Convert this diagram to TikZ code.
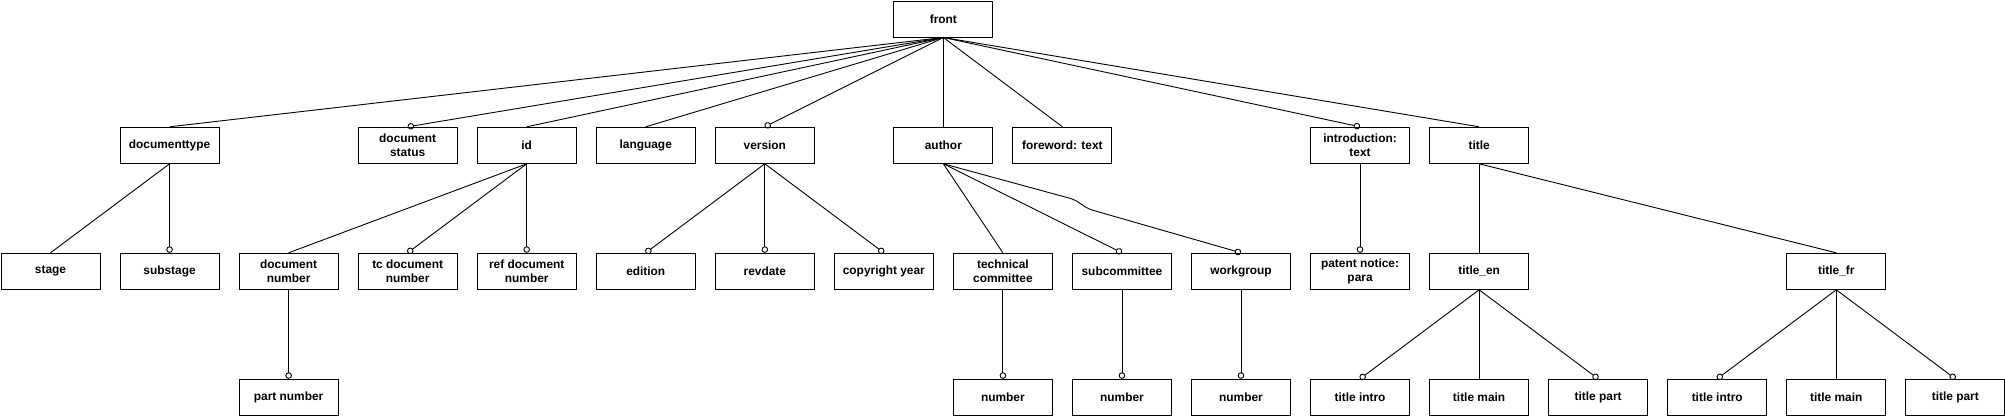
\documentclass[tikz,border=0pt]{standalone}
\usepackage{fontspec}
\setmainfont{Liberation Sans}
\usetikzlibrary{arrows.meta}
\tikzset{
  box/.style={draw, line width=1pt, minimum width=99pt, minimum height=36pt, inner sep=0pt,
    align=center, font=\fontsize{11.9pt}{14pt}\selectfont\bfseries},
  link/.style={line width=0.9pt},
  opt/.style={line width=0.9pt, -{Circle[open,length=6.5pt,width=6.5pt,line width=0.9pt]}}
}
\begin{document}
\begin{tikzpicture}[x=1pt,y=-1pt]
\useasboundingbox (0,0) rectangle (2005,416);
% row 0
\node[box] (front) at (943.375,19) {front};
% row 1
\node[box] (doctype) at (169.55,145.3) {documenttype};
\node[box] (docstatus) at (407.65,145.3) {document\\status};
\node[box] (id) at (526.7,145.3) {id};
\node[box] (language) at (645.75,145.3) {language};
\node[box] (version) at (764.8,145.3) {version};
\node[box] (author) at (943.375,145.3) {author};
\node[box] (foreword) at (1062.425,145.3) {foreword: text};
\node[box] (intro) at (1360.05,145.3) {introduction:\\text};
\node[box] (title) at (1479.1,145.3) {title};
% row 2
\node[box] (stage) at (50.5,271.3) {stage};
\node[box] (substage) at (169.55,271.3) {substage};
\node[box] (docnum) at (288.6,271.3) {document\\number};
\node[box] (tcdocnum) at (407.65,271.3) {tc document\\number};
\node[box] (refdocnum) at (526.7,271.3) {ref document\\number};
\node[box] (edition) at (645.75,271.3) {edition};
\node[box] (revdate) at (764.8,271.3) {revdate};
\node[box] (copyright) at (883.85,271.3) {copyright year};
\node[box] (tc) at (1002.9,271.3) {technical\\committee};
\node[box] (sc) at (1121.95,271.3) {subcommittee};
\node[box] (wg) at (1241,271.3) {workgroup};
\node[box] (patent) at (1360.05,271.3) {patent notice:\\para};
\node[box] (titleen) at (1479.1,271.3) {title\_en};
\node[box] (titlefr) at (1836.25,271.3) {title\_fr};
% row 3
\node[box] (partnum) at (288.6,397.3) {part number};
\node[box] (tcnum) at (1002.9,397.3) {number};
\node[box] (scnum) at (1121.95,397.3) {number};
\node[box] (wgnum) at (1241,397.3) {number};
\node[box] (enintro) at (1360.05,397.3) {title intro};
\node[box] (enmain) at (1479.1,397.3) {title main};
\node[box] (enpart) at (1598.15,397.3) {title part};
\node[box] (frintro) at (1717.2,397.3) {title intro};
\node[box] (frmain) at (1836.25,397.3) {title main};
\node[box] (frpart) at (1955.3,397.3) {title part};
% front edges
\draw[link] (front.south) -- (doctype.north);
\draw[opt] (front.south) -- (docstatus.north);
\draw[link] (front.south) -- (id.north);
\draw[link] (front.south) -- (language.north);
\draw[opt] (front.south) -- (version.north);
\draw[link] (front.south) -- (author.north);
\draw[link] (front.south) -- (foreword.north);
\draw[opt] (front.south) -- (intro.north);
\draw[link] (front.south) -- (title.north);
% documenttype
\draw[link] (doctype.south) -- (stage.north);
\draw[opt] (doctype.south) -- (substage.north);
% id
\draw[link] (id.south) -- (docnum.north);
\draw[opt] (id.south) -- (tcdocnum.north);
\draw[opt] (id.south) -- (refdocnum.north);
\draw[opt] (docnum.south) -- (partnum.north);
% version
\draw[opt] (version.south) -- (edition.north);
\draw[opt] (version.south) -- (revdate.north);
\draw[opt] (version.south) -- (copyright.north);
% author
\draw[link] (author.south) -- (tc.north);
\draw[opt] (author.south) -- (sc.north);
\coordinate (wa) at (1070,198.3);
\coordinate (wb) at (1093,210.3);
\draw[opt] (author.south) -- (wa) .. controls (1080,201.2) and (1083,207.5) .. (wb) -- (wg.north);
\draw[opt] (tc.south) -- (tcnum.north);
\draw[opt] (sc.south) -- (scnum.north);
\draw[opt] (wg.south) -- (wgnum.north);
% introduction
\draw[opt] (intro.south) -- (patent.north);
% title
\draw[link] (title.south) -- (titleen.north);
\draw[link] (title.south) -- (titlefr.north);
\draw[opt] (titleen.south) -- (enintro.north);
\draw[link] (titleen.south) -- (enmain.north);
\draw[opt] (titleen.south) -- (enpart.north);
\draw[opt] (titlefr.south) -- (frintro.north);
\draw[link] (titlefr.south) -- (frmain.north);
\draw[opt] (titlefr.south) -- (frpart.north);
\end{tikzpicture}
\end{document}
